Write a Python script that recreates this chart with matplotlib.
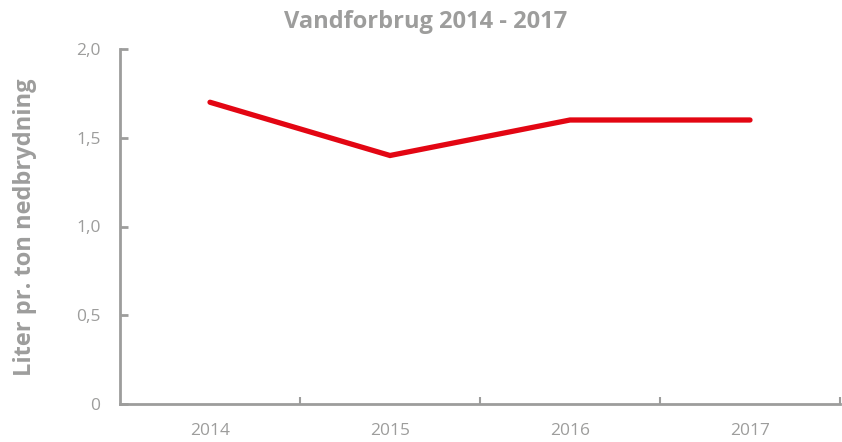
"""Vandforbrug 2014 - 2017: line chart of water use per ton."""
import matplotlib
matplotlib.use("Agg")
import matplotlib.pyplot as plt
from matplotlib.ticker import FixedLocator

years = ["2014", "2015", "2016", "2017"]
liter_per_ton = [1.7, 1.4, 1.6, 1.6]
y_ticks = [0, 0.5, 1.0, 1.5, 2.0]
y_tick_labels = ["0", "0,5", "1,0", "1,5", "2,0"]

grey = "#9d9d9c"
red = "#e30613"
plt.rcParams["font.family"] = ["Open Sans", "DejaVu Sans"]

fig = plt.figure(figsize=(8.42, 4.42), dpi=100)
ax = fig.add_axes([120 / 842, 38 / 442, 720 / 842, 355 / 442])

x = range(len(years))
ax.plot(x, liter_per_ton, color=red, lw=3.8, solid_capstyle="round",
        solid_joinstyle="miter")

ax.set_xlim(-0.5, len(years) - 0.5)
ax.set_ylim(0, 2.0)
ax.set_xticks(list(x))
ax.set_xticklabels(years)
ax.xaxis.set_minor_locator(FixedLocator([i + 0.5 for i in x]))
ax.set_yticks(y_ticks)
ax.set_yticklabels(y_tick_labels)

for s in ("top", "right"):
    ax.spines[s].set_visible(False)
for s in ("left", "bottom"):
    ax.spines[s].set_color(grey)
    ax.spines[s].set_linewidth(2)

ax.tick_params(axis="x", which="major", length=0, pad=14, labelsize=12.5,
               labelcolor=grey)
ax.tick_params(axis="x", which="minor", direction="in", length=5, width=1.5,
               color=grey)
ax.tick_params(axis="y", direction="in", length=6, width=2, color=grey,
               pad=14, labelsize=12.5, labelcolor=grey)

fig.text(0.505, 0.95, "Vandforbrug 2014 - 2017", ha="center", va="center",
         fontsize=17, fontweight="bold", color=grey)
fig.text(0.03, 0.485, "Liter pr. ton nedbrydning", ha="center", va="center",
         rotation=90, fontsize=17, fontweight="bold", color=grey)

fig.savefig("out.png", dpi=100)
